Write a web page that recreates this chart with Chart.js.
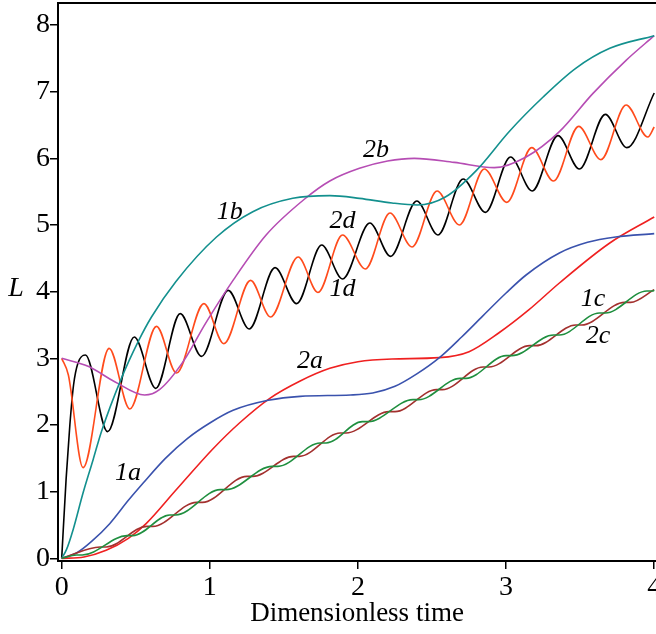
<!DOCTYPE html>
<html>
<head>
<meta charset="utf-8">
<script src="https://cdn.jsdelivr.net/npm/chart.js@4/dist/chart.umd.min.js"></script>
<style>
  html, body { margin: 0; padding: 0; background: #fff; }
  canvas { display: block; }
</style>
</head>
<body>
<canvas id="lenChart" width="656" height="634"></canvas>
<script>
// Values: time t and length L for each curve
const xTicks = [0, 1, 2, 3, 4];
const yTicks = [0, 1, 2, 3, 4, 5, 6, 7, 8];

const t1a = [0, 0.1, 0.2, 0.324, 0.45, 0.55, 0.7, 0.85, 1.0, 1.157, 1.394, 1.61, 1.95, 2.1, 2.25, 2.4, 2.55, 2.7, 2.84, 3.0, 3.135, 3.36, 3.55, 3.74, 4.0];
const L1a = [0, 0.08, 0.25, 0.52, 0.87, 1.13, 1.5, 1.8, 2.03, 2.22, 2.37, 2.43, 2.45, 2.48, 2.58, 2.77, 3.01, 3.32, 3.63, 3.98, 4.25, 4.58, 4.74, 4.82, 4.87];

const t2a = [0, 0.15, 0.3, 0.45, 0.57, 0.77, 1.02, 1.2, 1.405, 1.61, 1.81, 2.0, 2.23, 2.55, 2.75, 2.95, 3.155, 3.36, 3.7, 4.0];
const L2a = [0, 0.02, 0.12, 0.3, 0.52, 1.02, 1.64, 2.03, 2.4, 2.66, 2.85, 2.95, 2.99, 3.01, 3.1, 3.38, 3.73, 4.13, 4.73, 5.12];

const t1b = [0, 0.032, 0.077, 0.144, 0.212, 0.268, 0.403, 0.516, 0.606, 0.77, 1.045, 1.29, 1.56, 1.81, 2.01, 2.23, 2.4, 2.59, 2.8, 3.02, 3.25, 3.47, 3.7, 4.0];
const L1b = [0, 0.13, 0.43, 0.98, 1.48, 1.9, 2.7, 3.25, 3.62, 4.15, 4.82, 5.2, 5.4, 5.44, 5.4, 5.33, 5.3, 5.42, 5.82, 6.4, 6.92, 7.35, 7.65, 7.84];

const t2b = [0, 0.178, 0.358, 0.56, 0.66, 0.82, 0.97, 1.16, 1.38, 1.64, 1.81, 2.01, 2.2, 2.38, 2.65, 2.92, 3.135, 3.36, 3.585, 3.81, 4.0];
const L2b = [3.0, 2.88, 2.65, 2.45, 2.53, 2.95, 3.52, 4.18, 4.85, 5.39, 5.66, 5.85, 5.96, 6.0, 5.94, 5.86, 6.02, 6.4, 6.97, 7.47, 7.84];

const t1c = [0, 0.1, 0.14, 0.44, 0.48, 0.73, 0.77, 1.07, 1.11, 1.42, 1.46, 1.745, 1.785, 2.03, 2.07, 2.37, 2.41, 2.69, 2.73, 3.0, 3.04, 3.32, 3.36, 3.63, 3.67, 3.95, 3.99, 4.0];
const L1c = [0, 0.05, 0.05, 0.34, 0.34, 0.65, 0.65, 1.03, 1.03, 1.38, 1.38, 1.73, 1.73, 2.05, 2.05, 2.38, 2.38, 2.7, 2.7, 3.04, 3.04, 3.35, 3.35, 3.68, 3.68, 4.01, 4.01, 4.02];

const t2c = [0, 0.26, 0.3, 0.575, 0.615, 0.91, 0.95, 1.25, 1.29, 1.565, 1.605, 1.88, 1.92, 2.21, 2.25, 2.53, 2.57, 2.845, 2.885, 3.16, 3.2, 3.47, 3.51, 3.8, 3.84, 4.0];
const L2c = [0, 0.17, 0.17, 0.48, 0.48, 0.84, 0.84, 1.23, 1.23, 1.53, 1.53, 1.88, 1.88, 2.2, 2.2, 2.53, 2.53, 2.87, 2.87, 3.19, 3.19, 3.5, 3.5, 3.84, 3.84, 4.03];

const t1d = [0, 0.03, 0.055, 0.08, 0.11, 0.16, 0.31, 0.49, 0.635, 0.8, 0.944, 1.124, 1.266, 1.44, 1.586, 1.755, 1.896, 2.08, 2.22, 2.397, 2.54, 2.71, 2.86, 3.03, 3.176, 3.35, 3.495, 3.67, 3.815, 4.0];
const L1d = [0, 1.2, 2.0, 2.6, 2.93, 3.05, 1.9, 3.32, 2.55, 3.67, 3.03, 4.02, 3.44, 4.36, 3.82, 4.7, 4.19, 5.03, 4.53, 5.36, 4.85, 5.69, 5.19, 6.02, 5.51, 6.34, 5.84, 6.66, 6.16, 6.98];

const t2d = [0, 0.045, 0.144, 0.32, 0.46, 0.64, 0.775, 0.96, 1.095, 1.275, 1.41, 1.596, 1.73, 1.896, 2.05, 2.216, 2.365, 2.534, 2.685, 2.853, 3.005, 3.173, 3.32, 3.49, 3.64, 3.81, 3.957, 4.0];
const L2d = [3.0, 2.75, 1.36, 3.15, 2.24, 3.48, 2.78, 3.82, 3.22, 4.17, 3.62, 4.52, 3.99, 4.85, 4.34, 5.18, 4.67, 5.51, 5.0, 5.84, 5.34, 6.16, 5.66, 6.48, 5.98, 6.8, 6.32, 6.47];

// curve names and where they sit (t, L)
const curveLabels = ['1a', '2a', '1b', '2b', '1c', '2c', '1d', '2d'];
const labelT = [0.448, 1.676, 1.135, 2.122, 3.586, 3.62, 1.896, 1.896];
const labelL = [1.27, 2.95, 5.19, 6.12, 3.88, 3.33, 4.03, 5.05];

const serif = 'Liberation Serif, Times New Roman, serif';

function pts(ts, ls) {
    return ts.map((t, i) => ({ x: t, y: ls[i] }));
}

function line(label, ts, ls, color) {
    return {
        label: label,
        data: pts(ts, ls),
        borderColor: color,
        borderWidth: 1.6,
        pointRadius: 0,
        fill: false,
        cubicInterpolationMode: 'monotone'
    };
}

const datasets = [
    line('1c', t1c, L1c, '#1f8f3f'),
    line('2c', t2c, L2c, '#a3302e'),
    line('1a', t1a, L1a, '#3a52ad'),
    line('2a', t2a, L2a, '#ef2020'),
    line('1b', t1b, L1b, '#13908e'),
    line('2b', t2b, L2b, '#b64db4'),
    line('2d', t2d, L2d, '#ff4b1c'),
    line('1d', t1d, L1d, '#000000')
];

// curve tags, the "L" and the top frame line
const annotate = {
    id: 'annotate',
    afterDatasetsDraw(chart) {
        const { ctx, chartArea, scales } = chart;
        ctx.save();
        ctx.strokeStyle = '#000';
        ctx.lineWidth = 2;
        ctx.beginPath();
        ctx.moveTo(chartArea.left, chartArea.top);
        ctx.lineTo(chartArea.right, chartArea.top);
        ctx.stroke();

        ctx.fillStyle = '#000';
        ctx.textAlign = 'center';
        ctx.textBaseline = 'middle';
        ctx.font = 'italic 26px ' + serif;
        curveLabels.forEach((txt, i) => {
            ctx.fillText(txt, scales.x.getPixelForValue(labelT[i]), scales.y.getPixelForValue(labelL[i]));
        });
        ctx.font = 'italic 28px ' + serif;
        ctx.fillText('L', 16, scales.y.getPixelForValue(4.05));
        ctx.restore();
    }
};

new Chart(document.getElementById('lenChart').getContext('2d'), {
    type: 'line',
    data: { datasets: datasets },
    options: {
        responsive: false,
        devicePixelRatio: 1,
        animation: false,
        layout: { padding: { top: 3, right: 0, left: 0, bottom: 0 } },
        plugins: { legend: { display: false }, tooltip: { enabled: false } },
        scales: {
            x: {
                type: 'linear',
                min: -0.025,
                max: 4.012,
                afterBuildTicks: s => { s.ticks = xTicks.map(v => ({ value: v })); },
                afterFit: s => { s.height = 73; s.paddingLeft = 0; s.paddingRight = 0; },
                grid: { drawOnChartArea: false, drawTicks: true, tickLength: 8, color: '#000', lineWidth: 1.5 },
                border: { display: true, color: '#000', width: 2 },
                ticks: { color: '#000', font: { family: serif, size: 28 }, padding: 2, maxRotation: 0, autoSkip: false },
                title: { display: true, text: 'Dimensionless time', color: '#000', font: { family: serif, size: 27 }, padding: { top: 0, bottom: 4 } }
            },
            y: {
                type: 'linear',
                min: -0.04,
                max: 8.33,
                afterBuildTicks: s => { s.ticks = yTicks.map(v => ({ value: v })); },
                afterFit: s => { s.width = 58; s.paddingTop = 0; s.paddingBottom = 0; },
                grid: { drawOnChartArea: false, drawTicks: true, tickLength: 8, color: '#000', lineWidth: 1.5 },
                border: { display: true, color: '#000', width: 2 },
                ticks: { color: '#000', font: { family: serif, size: 28 }, padding: 0, autoSkip: false }
            }
        }
    },
    plugins: [annotate]
});
</script>
</body>
</html>
